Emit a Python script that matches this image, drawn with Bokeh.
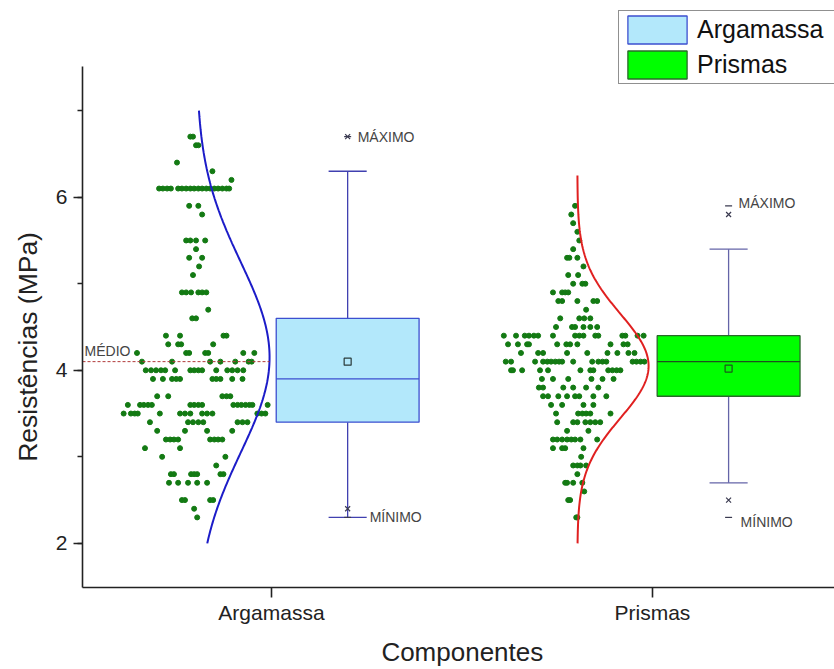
import numpy as np
from bokeh.plotting import figure
from bokeh.models import Range1d, FixedTicker, SingleIntervalTicker, Legend, LegendItem
from bokeh.core.properties import value
from bokeh.embed import file_html
from bokeh.resources import INLINE

# ---------------- data ----------------
CATEGORIES = ["Argamassa", "Prismas"]
CAT_POS = [1, 2]

Q1 = [3.4, 3.7]
MEDIAN = [3.9, 4.1]
Q3 = [4.6, 4.4]
MEAN = [4.1, 4.02]
WHISK_LO = [2.3, 2.7]
WHISK_HI = [6.3, 5.4]
P_LO = [2.4, 2.5]      # "x" markers
P_HI = [6.7, 5.8]
MIN_V = [2.3, 2.3]     # "-" markers
MAX_V = [6.7, 5.9]

FIT_MEAN = [4.15, 4.05]
FIT_SD = [1.1, 0.6]
FIT_LO = [2.0, 2.0]
FIT_HI = [7.0, 6.25]

MEDIO_VALUE = 4.1
X_AXIS_BOUNDS = (0.504, 2.478)
Y_AXIS_BOUNDS = (1.49, 7.51)
X_TITLE = "Componentes"
Y_TITLE = "Resistências (MPa)"

# scatter rows: (value, horizontal jitter offsets)
ARG_ROWS = [
    (6.7, [-0.179, -0.172]),
    (6.6, [-0.164, -0.158]),
    (6.4, [-0.214]),
    (6.3, [-0.121]),
    (6.2, [-0.071]),
    (6.1, [-0.261, -0.251, -0.240, -0.230, -0.211, -0.201, -0.190, -0.179, -0.169,
           -0.158, -0.148, -0.137, -0.127, -0.116, -0.106, -0.095, -0.084, -0.077]),
    (5.9, [-0.182, -0.158]),
    (5.8, [-0.148]),
    (5.5, [-0.190, -0.179, -0.164, -0.140]),
    (5.4, [-0.164]),
    (5.3, [-0.182, -0.148]),
    (5.2, [-0.156]),
    (5.1, [-0.172]),
    (4.9, [-0.201, -0.190, -0.177, -0.158, -0.148, -0.137]),
    (4.7, [-0.132]),
    (4.6, [-0.174, -0.164]),
    (4.4, [-0.243, -0.206, -0.092, -0.084]),
    (4.3, [-0.237, -0.211, -0.203, -0.119]),
    (4.2, [-0.319, -0.190, -0.182, -0.140, -0.132, -0.040, -0.011]),
    (4.1, [-0.306, -0.227, -0.127, -0.100, -0.061, -0.026, -0.018]),
    (4.0, [-0.296, -0.282, -0.269, -0.256, -0.245, -0.219, -0.179, -0.169, -0.158,
           -0.148, -0.111, -0.082, -0.069, -0.055, -0.040]),
    (3.9, [-0.277, -0.251, -0.227, -0.216, -0.206, -0.121, -0.111, -0.100, -0.069, -0.042]),
    (3.7, [-0.266, -0.237, -0.095, -0.084, -0.074]),
    (3.6, [-0.343, -0.311, -0.301, -0.290, -0.280, -0.179, -0.169, -0.158, -0.148,
           -0.066, -0.055, -0.045, -0.034, -0.024, -0.016, 0.024]),
    (3.5, [-0.354, -0.335, -0.325, -0.317, -0.259, -0.206, -0.193, -0.179, -0.148,
           -0.135, -0.121, -0.003, 0.008, 0.018]),
    (3.4, [-0.285, -0.185, -0.172, -0.158, -0.145, -0.055, -0.042, -0.029]),
    (3.3, [-0.266, -0.193, -0.135, -0.069]),
    (3.2, [-0.243, -0.232, -0.222, -0.211, -0.127, -0.116, -0.106, -0.095]),
    (3.1, [-0.298, -0.206]),
    (3.0, [-0.253, -0.087]),
    (2.9, [-0.111]),
    (2.8, [-0.230, -0.222, -0.177, -0.169, -0.161, -0.100, -0.092]),
    (2.7, [-0.235, -0.211, -0.185, -0.161, -0.135]),
    (2.5, [-0.201, -0.193, -0.127, -0.119]),
    (2.4, [-0.169]),
    (2.3, [-0.161]),
]

PRI_ROWS = [
    (5.9, [-0.164]),
    (5.8, [-0.174]),
    (5.7, [-0.169]),
    (5.6, [-0.158]),
    (5.5, [-0.153]),
    (5.4, [-0.169]),
    (5.3, [-0.185, -0.179, -0.158]),
    (5.2, [-0.142]),
    (5.1, [-0.182, -0.156]),
    (5.0, [-0.169, -0.145, -0.137]),
    (4.9, [-0.222, -0.198, -0.190, -0.182]),
    (4.8, [-0.208, -0.198, -0.158, -0.116, -0.106]),
    (4.7, [-0.135]),
    (4.6, [-0.203, -0.153, -0.140, -0.124]),
    (4.5, [-0.214, -0.172, -0.164, -0.142, -0.124, -0.106]),
    (4.4, [-0.351, -0.319, -0.296, -0.285, -0.272, -0.261, -0.222, -0.164, -0.153,
           -0.142, -0.111, -0.103, -0.040, -0.032, 0.000, 0.016]),
    (4.3, [-0.340, -0.314, -0.290, -0.285, -0.211, -0.187, -0.177, -0.158, -0.071,
           -0.037, -0.026]),
    (4.2, [-0.306, -0.261, -0.248, -0.185, -0.132, -0.079, -0.053, -0.024, -0.008]),
    (4.1, [-0.346, -0.332, -0.269, -0.248, -0.237, -0.227, -0.216, -0.206, -0.198,
           -0.169, -0.119, -0.103, -0.092, -0.082, -0.013, -0.003, 0.008, 0.018]),
    (4.0, [-0.332, -0.327, -0.303, -0.256, -0.235, -0.150, -0.124, -0.116, -0.077,
           -0.066, -0.055, -0.045]),
    (3.9, [-0.251, -0.222, -0.182, -0.121, -0.092, -0.063]),
    (3.8, [-0.259, -0.248, -0.195, -0.169, -0.135, -0.103]),
    (3.7, [-0.248, -0.235, -0.208, -0.185, -0.164, -0.153, -0.116, -0.082]),
    (3.6, [-0.227, -0.198, -0.142, -0.116]),
    (3.5, [-0.214, -0.156, -0.145, -0.135, -0.124, -0.071]),
    (3.4, [-0.211, -0.169, -0.158, -0.137, -0.124, -0.111, -0.098]),
    (3.3, [-0.185, -0.129]),
    (3.2, [-0.222, -0.211, -0.198, -0.185, -0.174, -0.164, -0.150, -0.106]),
    (3.1, [-0.222, -0.198, -0.190, -0.142]),
    (3.0, [-0.148]),
    (2.9, [-0.169, -0.158, -0.150, -0.135]),
    (2.8, [-0.158]),
    (2.7, [-0.190, -0.185, -0.169, -0.145]),
    (2.6, [-0.140]),
    (2.5, [-0.182, -0.177]),
    (2.3, [-0.161, -0.158]),
]

# ---------------- layout / style constants ----------------
SCATTER_CENTER = [0.966, 1.961]
BOX_SHIFT = 0.2
BOX_HALF = 0.1875
CAP_HALF = 0.05
CURVE_SHIFT = -0.197
CURVE_AMP = [0.192, 0.187]
X_TITLE_POS = (1.501, 0.74)
Y_TITLE_POS = (0.36, 4.27)

FONT = "Liberation Sans"
BOX_FILL = ["#b3e8fb", "#00ff00"]
BOX_LINE = ["#3d4fd0", "#2a6a2a"]
WHISKER_COLOR = ["#4040b0", "#6464a8"]
MEDIAN_COLOR = ["#3d4fd0", "#1f4f1f"]
CURVE_COLOR = ["#1c1cc8", "#e02020"]
POINT_COLOR = "#137a13"
TEXT_DARK = "#222222"

p = figure(width=834, height=668, output_backend="svg", toolbar_location=None,
           x_range=Range1d(0.2887, 2.478), y_range=Range1d(0.554, 8.273),
           min_border_left=0, min_border_right=0, min_border_top=0, min_border_bottom=0)
p.outline_line_color = None
p.xgrid.visible = False
p.ygrid.visible = False
p.background_fill_color = "white"

# scatter points
for rows, center in ((ARG_ROWS, SCATTER_CENTER[0]), (PRI_ROWS, SCATTER_CENTER[1])):
    xs, ys = [], []
    for v, offs in rows:
        for o in offs:
            xs.append(center + o)
            ys.append(v)
    p.scatter(xs, ys, size=5, marker="circle", fill_color=POINT_COLOR, line_color=POINT_COLOR)

# normal curves
for i, c in enumerate(CAT_POS):
    yy = np.linspace(FIT_LO[i], FIT_HI[i], 300)
    xx = c + CURVE_SHIFT + CURVE_AMP[i] * np.exp(-0.5 * ((yy - FIT_MEAN[i]) / FIT_SD[i]) ** 2)
    p.line(xx, yy, line_color=CURVE_COLOR[i], line_width=2)

# mean reference line
p.line([X_AXIS_BOUNDS[0], CAT_POS[0] + CURVE_SHIFT + CURVE_AMP[0]], [MEDIO_VALUE, MEDIO_VALUE],
       line_color="#b03a3a", line_width=1, line_dash="3 2")
p.text(x=[X_AXIS_BOUNDS[0]], y=[MEDIO_VALUE], text=["MÉDIO"], x_offset=2, y_offset=-3,
       text_font=value(FONT), text_font_size="14px", text_baseline="bottom",
       text_align="left", text_color="#444444")

box_renderers = []
for i, c in enumerate(CAT_POS):
    cx = c + BOX_SHIFT
    p.segment(x0=[cx, cx], y0=[Q3[i], Q1[i]], x1=[cx, cx], y1=[WHISK_HI[i], WHISK_LO[i]],
              line_color=WHISKER_COLOR[i], line_width=1.3)
    p.segment(x0=[cx - CAP_HALF, cx - CAP_HALF], y0=[WHISK_HI[i], WHISK_LO[i]],
              x1=[cx + CAP_HALF, cx + CAP_HALF], y1=[WHISK_HI[i], WHISK_LO[i]],
              line_color=WHISKER_COLOR[i], line_width=1.3)
    r = p.quad(left=[cx - BOX_HALF], right=[cx + BOX_HALF], bottom=[Q1[i]], top=[Q3[i]],
               fill_color=BOX_FILL[i], line_color=BOX_LINE[i], line_width=1.3)
    box_renderers.append(r)
    p.segment(x0=[cx - BOX_HALF], y0=[MEDIAN[i]], x1=[cx + BOX_HALF], y1=[MEDIAN[i]],
              line_color=MEDIAN_COLOR[i], line_width=1.3)
    p.scatter([cx], [MEAN[i]], marker="square", size=7, fill_color=None,
              line_color="#2a3a3a" if i == 0 else "#1a5a1a", line_width=1.2)
    p.scatter([cx, cx], [P_LO[i], P_HI[i]], marker="x", size=7,
              line_color="#3a3a50", line_width=1.2)
    p.scatter([cx, cx], [MIN_V[i], MAX_V[i]], marker="dash", size=7,
              line_color="#3a3a50", line_width=1.2)

# MÁXIMO / MÍNIMO annotations
p.text(x=[CAT_POS[0] + BOX_SHIFT, CAT_POS[1] + BOX_SHIFT], y=[MAX_V[0], MAX_V[1] + 0.03],
       text=["MÁXIMO", "MÁXIMO"], x_offset=[10, 10], text_baseline="middle",
       text_font=value(FONT), text_font_size="14px", text_color="#444444")
p.text(x=[CAT_POS[0] + BOX_SHIFT, CAT_POS[1] + BOX_SHIFT], y=[MIN_V[0], MIN_V[1] - 0.05],
       text=["MÍNIMO", "MÍNIMO"], x_offset=[22, 12], text_baseline="middle",
       text_font=value(FONT), text_font_size="14px", text_color="#444444")

# axes (placed at fixed data locations inside the full-canvas frame)
p.xaxis.ticker = FixedTicker(ticks=CAT_POS)
p.xaxis.major_label_overrides = {c: n for c, n in zip(CAT_POS, CATEGORIES)}
p.xaxis.fixed_location = Y_AXIS_BOUNDS[0]
p.xaxis.bounds = X_AXIS_BOUNDS
p.yaxis.ticker = SingleIntervalTicker(interval=2, num_minor_ticks=2)
p.yaxis.fixed_location = X_AXIS_BOUNDS[0]
p.yaxis.bounds = Y_AXIS_BOUNDS
for ax in (p.xaxis[0], p.yaxis[0]):
    ax.axis_line_color = TEXT_DARK
    ax.axis_line_width = 1.6
    ax.major_tick_line_color = TEXT_DARK
    ax.major_tick_line_width = 1.6
    ax.minor_tick_line_color = TEXT_DARK
    ax.minor_tick_line_width = 1.6
    ax.major_tick_in = 0
    ax.minor_tick_in = 0
    ax.major_label_text_font = FONT
    ax.major_label_text_font_size = "21px"
    ax.major_label_text_color = TEXT_DARK
p.xaxis.major_tick_out = 10
p.xaxis.major_label_standoff = 4
p.yaxis.major_tick_out = 9
p.yaxis.minor_tick_out = 5
p.yaxis.major_label_standoff = 6

# axis titles
p.text(x=[X_TITLE_POS[0]], y=[X_TITLE_POS[1]], text=[X_TITLE], text_align="center",
       text_baseline="middle", text_font=value(FONT), text_font_size="26px",
       text_color=TEXT_DARK)
p.text(x=[Y_TITLE_POS[0]], y=[Y_TITLE_POS[1]], text=[Y_TITLE], angle=np.pi / 2,
       text_align="center", text_baseline="middle", text_font=value(FONT),
       text_font_size="26.5px", text_color=TEXT_DARK)

legend = Legend(items=[LegendItem(label=CATEGORIES[0], renderers=[box_renderers[0]]),
                       LegendItem(label=CATEGORIES[1], renderers=[box_renderers[1]])],
                location=(618, 584), orientation="vertical",
                glyph_width=74, glyph_height=35, spacing=-1, padding=1, margin=0,
                label_standoff=3, label_text_font=FONT, label_text_font_size="25px",
                label_text_color="#111111", label_height=35, label_width=140,
                border_line_color=TEXT_DARK, border_line_width=1,
                background_fill_color="white", background_fill_alpha=1.0)
p.add_layout(legend, "center")

open("out.html", "w").write(file_html(p, INLINE))
